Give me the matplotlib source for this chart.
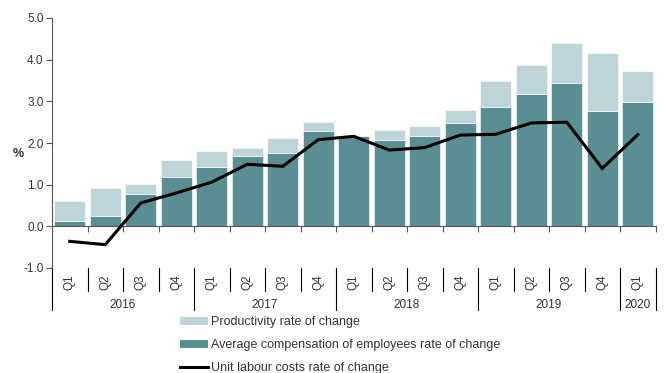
import matplotlib
matplotlib.use("Agg")
import matplotlib.pyplot as plt
import matplotlib.transforms as mtransforms
from matplotlib.patches import Patch
from matplotlib.lines import Line2D
import numpy as np

plt.rcParams['font.family'] = ['Liberation Sans', 'DejaVu Sans']

quarters = ["Q1", "Q2", "Q3", "Q4"] * 4 + ["Q1"]
years = ["2016", "2017", "2018", "2019", "2020"]
year_counts = [4, 4, 4, 4, 1]
compensation = [0.12, 0.24, 0.78, 1.19, 1.43, 1.68, 1.76, 2.29, 2.17, 2.07, 2.16, 2.49,
                2.86, 3.17, 3.45, 2.78, 2.99]
productivity_total = [0.62, 0.93, 1.01, 1.59, 1.80, 1.875, 2.12, 2.51, 2.17, 2.32, 2.42, 2.79,
                      3.50, 3.88, 4.39, 4.17, 3.74]
productivity = [t - c for t, c in zip(productivity_total, compensation)]
ulc = [-0.36, -0.44, 0.56, 0.80, 1.06, 1.49, 1.44, 2.08, 2.16, 1.83, 1.89, 2.19,
       2.21, 2.48, 2.50, 1.39, 2.20]
yticks = [-1.0, 0.0, 1.0, 2.0, 3.0, 4.0, 5.0]

dark = "#5a8e93"
light = "#bed4d7"
txt = "#333333"
axc = "#555555"

fig = plt.figure(figsize=(6.67, 3.73), dpi=100)
ax = fig.add_axes([52/667, 1-268/373, (655.5-52)/667, 250/373])

x = np.arange(len(quarters))
ax.bar(x, compensation, width=0.88, color=dark, edgecolor="white", linewidth=0.4, zorder=2)
ax.bar(x, productivity, bottom=compensation, width=0.88, color=light, edgecolor="white",
       linewidth=0.4, zorder=2)
ax.plot(x, ulc, color="black", linewidth=2.2, zorder=3, solid_joinstyle="miter")

ax.set_xlim(-0.5, len(quarters) - 0.5)
ax.set_ylim(-1.0, 5.0)
ax.set_yticks(yticks)
ax.set_yticklabels([f"{v:.1f}" for v in yticks], fontsize=8.5, color=txt)
ax.tick_params(axis='y', direction='out', length=4, color=axc, pad=2)

for s in ["top", "right"]:
    ax.spines[s].set_visible(False)
ax.spines['left'].set_color(axc)
ax.spines['bottom'].set_color(axc)
ax.spines['bottom'].set_position(('data', 0))
ax.set_xticks(np.arange(len(quarters) + 1) - 0.5)
ax.set_xticklabels([])
ax.tick_params(axis='x', direction='out', length=4, color=axc)

trans = mtransforms.blended_transform_factory(ax.transData, ax.transAxes)
for i, q in enumerate(quarters):
    ax.text(i, -0.055, q, rotation=90, ha='center', va='center', fontsize=8.5,
            color=txt, transform=trans)

bounds = np.cumsum([0] + year_counts)
year_bounds = set(bounds.tolist())
for k in range(len(quarters) + 1):
    ybot = -0.168 if k in year_bounds else -0.092
    ax.plot([k - 0.5, k - 0.5], [0, ybot], color="black", linewidth=0.8,
            transform=trans, clip_on=False)
for yname, b0, b1 in zip(years, bounds[:-1], bounds[1:]):
    ax.text((b0 + b1 - 1) / 2, -0.148, yname, ha='center', va='center', fontsize=8.5,
            color=txt, transform=trans)

ax.text(-0.055, 0.456, "%", transform=ax.transAxes, ha='center', va='center',
        fontsize=9, fontweight='bold', color=txt)

handles = [Patch(facecolor=light, edgecolor='none'),
           Patch(facecolor=dark, edgecolor='none'),
           Line2D([0], [0], color='black', linewidth=2.2)]
labels = ["Productivity rate of change",
          "Average compensation of employees rate of change",
          "Unit labour costs rate of change"]
fig.legend(handles, labels, loc='upper left', bbox_to_anchor=(180/667, 1-316/373),
           frameon=False, fontsize=9, handlelength=2.2, handleheight=0.6,
           handletextpad=0.3, labelspacing=0.9, borderaxespad=0, borderpad=0,
           labelcolor=txt)

fig.savefig("out.png", dpi=100)
